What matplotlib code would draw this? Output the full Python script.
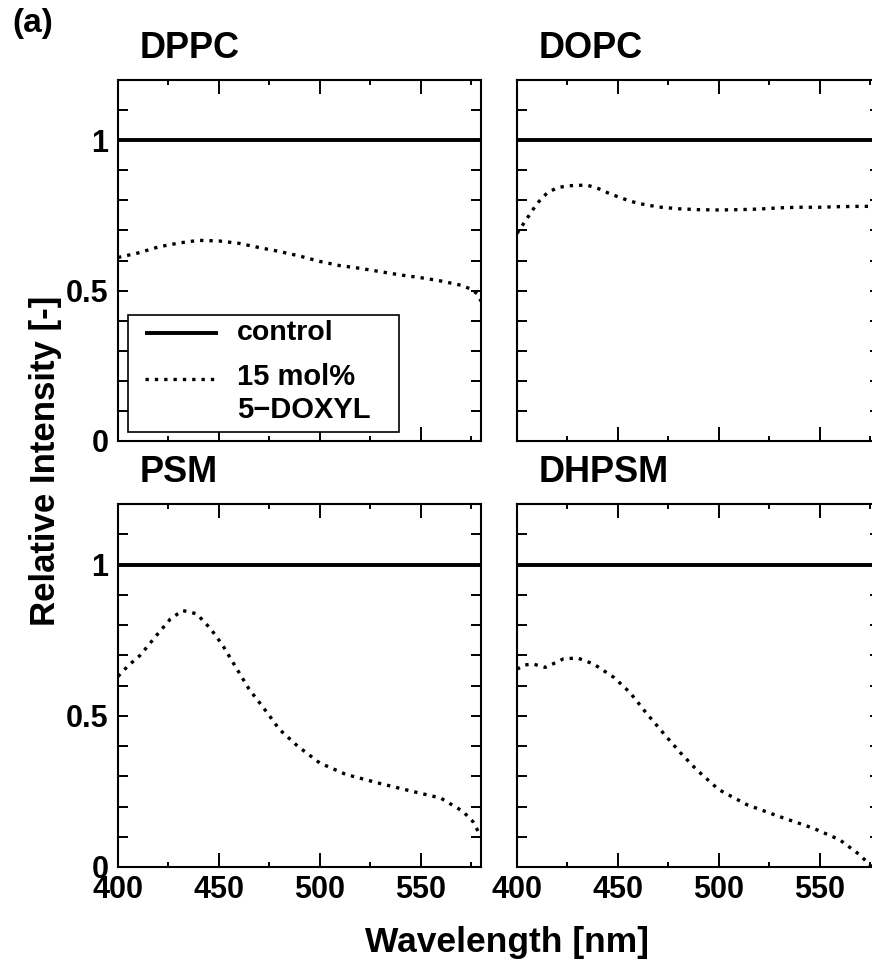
import matplotlib
matplotlib.use("Agg")
import matplotlib.pyplot as plt
from matplotlib.ticker import MultipleLocator, FixedLocator
from matplotlib.patches import Rectangle
from matplotlib.lines import Line2D

plt.rcParams['font.family'] = ['Liberation Sans', 'DejaVu Sans']
plt.rcParams['font.weight'] = 'bold'

# ---------------- data ----------------
panel_names = ["DPPC", "DOPC", "PSM", "DHPSM"]

dppc_wl = [400, 410, 420, 430, 440, 450, 460, 470, 480, 490, 500, 510, 520, 530, 540, 550, 560, 570, 575, 578, 580]
dppc_val = [0.61, 0.625, 0.645, 0.658, 0.667, 0.665, 0.657, 0.643, 0.630, 0.615, 0.597, 0.583, 0.574, 0.563,
            0.552, 0.543, 0.532, 0.518, 0.505, 0.49, 0.465]

dopc_wl = [400, 405, 410, 415, 420, 425, 430, 435, 440, 445, 450, 455, 460, 470, 480, 490, 500, 510, 520, 530,
           540, 550, 560, 570, 580]
dopc_val = [0.69, 0.74, 0.79, 0.825, 0.842, 0.848, 0.850, 0.850, 0.840, 0.825, 0.812, 0.800, 0.790, 0.778,
            0.772, 0.769, 0.768, 0.769, 0.771, 0.775, 0.777, 0.777, 0.779, 0.780, 0.780]

psm_wl = [400, 405, 411, 419, 426, 432, 439, 446, 452, 459, 465, 474, 480, 489, 500, 513, 530, 546, 560, 571,
          576, 580]
psm_val = [0.63, 0.665, 0.70, 0.765, 0.82, 0.848, 0.837, 0.787, 0.732, 0.654, 0.588, 0.51, 0.455, 0.40, 0.344,
           0.306, 0.276, 0.25, 0.228, 0.184, 0.15, 0.10]

dhpsm_wl = [400, 404, 408, 414, 418, 423, 430, 438, 448, 456, 464, 473, 481, 489, 500, 514, 530, 547, 560, 570, 576]
dhpsm_val = [0.654, 0.668, 0.671, 0.66, 0.672, 0.688, 0.691, 0.671, 0.627, 0.577, 0.51, 0.439, 0.378, 0.322,
             0.256, 0.206, 0.167, 0.128, 0.09, 0.04, 0.0]

control_wl = [400, 580]
control_val = [1.0, 1.0]

series = [(dppc_wl, dppc_val), (dopc_wl, dopc_val), (psm_wl, psm_val), (dhpsm_wl, dhpsm_val)]

x_ticks = [400, 450, 500, 550]
x_tick_labels = ["400", "450", "500", "550"]
y_ticks = [0, 0.5, 1]
y_tick_labels = ["0", "0.5", "1"]

legend_labels = ["control", "15 mol%", "5\u2212DOXYL"]

# ---------------- figure ----------------
W, H = 872, 961
fig = plt.figure(figsize=(W / 100, H / 100), dpi=100)

def px_rect(x0, y0, x1, y1):
    return [x0 / W, 1 - y1 / H, (x1 - x0) / W, (y1 - y0) / H]

rects = [px_rect(118, 80, 481, 441), px_rect(517, 80, 880, 441),
         px_rect(118, 504, 481, 867), px_rect(517, 504, 880, 867)]

axes = []
for i, (r, name, (wl, val)) in enumerate(zip(rects, panel_names, series)):
    ax = fig.add_axes(r)
    axes.append(ax)
    ax.plot(control_wl, control_val, color='black', lw=2.8, solid_capstyle='butt')
    ax.plot(wl, val, color='black', lw=2.4, linestyle=(0, (1, 1.8)), dash_capstyle='butt')
    ax.set_xlim(400, 580)
    ax.set_ylim(0, 1.2)
    ax.xaxis.set_major_locator(FixedLocator(x_ticks))
    ax.xaxis.set_minor_locator(MultipleLocator(25))
    ax.yaxis.set_major_locator(FixedLocator(y_ticks))
    ax.yaxis.set_minor_locator(MultipleLocator(0.1))
    ax.tick_params(axis='x', which='major', direction='in', length=10, width=1.4, top=True, bottom=True, pad=6,
                   labelsize=22)
    ax.tick_params(axis='x', which='minor', direction='in', length=3.6, width=1.4, top=True, bottom=True)
    ax.tick_params(axis='y', which='both', direction='in', length=7.2, width=1.4, left=True, right=True, pad=7,
                   labelsize=22)
    for s in ax.spines.values():
        s.set_linewidth(1.5)
    if i >= 2:
        ax.set_xticklabels(x_tick_labels, fontweight='bold')
    else:
        ax.set_xticklabels([])
    if i % 2 == 0:
        ax.set_yticklabels(y_tick_labels, fontweight='bold')
    else:
        ax.set_yticklabels([])
    ax.text(0.06, 1.0 + 22 / 361, name, transform=ax.transAxes, fontsize=26, fontweight='bold',
            ha='left', va='baseline')

# legend drawn in the DPPC panel
ax0 = axes[0]
ax0.add_patch(Rectangle((0.0275, 0.025), 0.774 - 0.0275, 0.349 - 0.025, transform=ax0.transAxes,
                        facecolor='white', edgecolor='black', lw=1.2, zorder=5))
ax0.add_line(Line2D([0.074, 0.275], [0.299, 0.299], transform=ax0.transAxes, color='black', lw=2.8,
                    solid_capstyle='butt', zorder=6))
ax0.add_line(Line2D([0.074, 0.275], [0.172, 0.172], transform=ax0.transAxes, color='black', lw=2.4,
                    linestyle=(0, (1, 1.8)), dash_capstyle='butt', zorder=6))
ax0.text(0.328, 0.299, legend_labels[0], transform=ax0.transAxes, fontsize=20.5, fontweight='bold',
         ha='left', va='center', zorder=7)
ax0.text(0.328, 0.177, legend_labels[1], transform=ax0.transAxes, fontsize=21, fontweight='bold',
         ha='left', va='center', zorder=7)
ax0.text(0.328, 0.086, legend_labels[2], transform=ax0.transAxes, fontsize=21, fontweight='bold',
         ha='left', va='center', zorder=7)

fig.text(12 / W, 1 - 8 / H, "(a)", fontsize=24, fontweight='bold', ha='left', va='top')
fig.text(45 / W, 1 - 461 / H, "Relative Intensity [-]", fontsize=25, fontweight='bold', rotation=90,
         ha='center', va='center')
fig.text(506.5 / W, 1 - 952 / H, "Wavelength [nm]", fontsize=25.5, fontweight='bold', ha='center',
         va='baseline')

fig.savefig("out.png", dpi=100)
